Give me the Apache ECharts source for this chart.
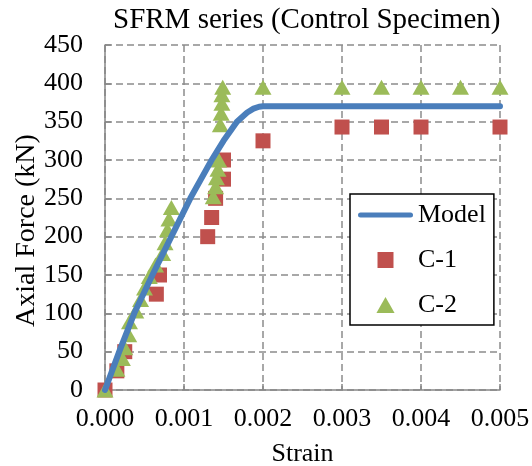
<!DOCTYPE html>
<html>
<head>
<meta charset="utf-8">
<script src="https://cdn.jsdelivr.net/npm/echarts@6/dist/echarts.min.js"></script>
<style>
html, body { margin: 0; padding: 0; background: #fff; }
#chart { width: 532px; height: 466px; }
</style>
</head>
<body>
<div id="chart"></div>
<script>
// 模型曲线
var modelStrain = [0, 0.00018, 0.00037, 0.0006, 0.00084, 0.00108, 0.00135, 0.0015, 0.00167, 0.0018, 0.00188, 0.00195, 0.002, 0.005];
var modelForce  = [0, 50, 100, 150, 200, 250, 300, 325, 350, 362, 367, 369.5, 370, 370];

// C-1 试件
var c1Strain = [0, 0.00015, 0.00025, 0.00065, 0.00069, 0.0013, 0.00135, 0.0014, 0.0015, 0.0015, 0.002, 0.003, 0.0035, 0.004, 0.005];
var c1Force  = [0, 25, 50, 125, 150, 200, 225, 250, 275, 300, 325, 343, 343, 343, 343];

// C-2 试件
var c2Strain = [0, 0.00015, 0.00022, 0.00025, 0.0003, 0.00031, 0.00039, 0.00045, 0.0005, 0.00056, 0.00064, 0.00073, 0.00076, 0.00079, 0.00081, 0.00084,
    0.00137, 0.0014, 0.00141, 0.00143, 0.00144, 0.00146, 0.00147, 0.00148, 0.00148, 0.00149,
    0.002, 0.003, 0.0035, 0.004, 0.0045, 0.005];
var c2Force  = [0, 27, 41, 55, 72, 89, 103, 118, 133, 148, 163, 178, 192, 209, 223, 238,
    252, 265, 277, 288, 300, 346, 361, 374, 385, 395,
    395, 395, 395, 395, 395, 395];

function pairs(xs, ys) {
    var out = [];
    for (var i = 0; i < xs.length; i++) {
        out.push([xs[i], ys[i]]);
    }
    return out;
}

var font = 'Liberation Serif';
var axisGray = '#868686';
var gridLine = { lineStyle: { color: '#8c8c8c', width: 1.5, type: [7, 4] } };

var myChart = echarts.init(document.getElementById('chart'));

var option = {
    backgroundColor: '#fff',
    animation: false,
    textStyle: { fontFamily: font, color: '#000' },
    grid: {
        left: 105,
        right: 32,
        top: 45,
        bottom: 76,
        outerBoundsMode: 'none'
    },
    title: {
        text: 'SFRM series (Control Specimen)',
        left: 113,
        top: 6,
        padding: 0,
        textStyle: { fontFamily: font, fontSize: 29, fontWeight: 'normal', color: '#000' }
    },
    legend: {
        orient: 'vertical',
        left: 350,
        top: 194,
        padding: [8, 8, 7, 8],
        itemGap: 19,
        itemWidth: 55,
        itemHeight: 16,
        symbolKeepAspect: true,
        borderColor: '#000',
        borderWidth: 1.5,
        backgroundColor: '#fff',
        textStyle: { fontFamily: font, fontSize: 26, color: '#000' },
        data: [
            { name: 'Model', icon: 'path://M2.5,0L52.5,0A2.5,2.5,0,0,1,52.5,5L2.5,5A2.5,2.5,0,0,1,2.5,0Z' },
            { name: 'C-1', icon: 'path://M0,0L1,0L1,1L0,1Z' },
            { name: 'C-2', icon: 'path://M0.5,0L1,0.88L0,0.88Z' }
        ]
    },
    xAxis: {
        type: 'value',
        min: 0,
        max: 0.005,
        interval: 0.001,
        name: 'Strain',
        nameLocation: 'middle',
        nameGap: 51,
        nameMoveOverlap: false,
        nameTextStyle: { fontFamily: font, fontSize: 26, color: '#000' },
        axisLine: { lineStyle: { color: axisGray, width: 1.5 } },
        axisTick: { inside: true, length: 6, lineStyle: { color: axisGray, width: 1.5 } },
        axisLabel: {
            fontFamily: font, fontSize: 26, color: '#000', margin: 16,
            formatter: function (v) { return v.toFixed(3); }
        },
        splitLine: gridLine
    },
    yAxis: {
        type: 'value',
        min: 0,
        max: 450,
        interval: 50,
        name: 'Axial Force (kN)',
        nameLocation: 'middle',
        nameGap: 64,
        nameMoveOverlap: false,
        nameTextStyle: { fontFamily: font, fontSize: 28, color: '#000', padding: [0, 26, 0, 0] },
        axisLine: { show: true, lineStyle: { color: axisGray, width: 1.5 } },
        axisTick: { show: true, inside: true, length: 6, lineStyle: { color: axisGray, width: 1.5 } },
        axisLabel: { fontFamily: font, fontSize: 26, color: '#000', margin: 22 },
        splitLine: gridLine
    },
    series: [{
        name: 'Model',
        type: 'line',
        data: pairs(modelStrain, modelForce),
        symbol: 'none',
        clip: false,
        lineStyle: { color: '#4a7ebb', width: 6, cap: 'round', join: 'round' },
        itemStyle: { color: '#4a7ebb' }
    }, {
        name: 'C-1',
        type: 'scatter',
        data: pairs(c1Strain, c1Force),
        symbol: 'rect',
        symbolSize: 15,
        clip: false,
        itemStyle: { color: '#c0504d', opacity: 1 }
    }, {
        name: 'C-2',
        type: 'scatter',
        data: pairs(c2Strain, c2Force),
        symbol: 'triangle',
        symbolSize: [17, 15],
        clip: false,
        itemStyle: { color: '#9bbb59', opacity: 1 }
    }]
};
myChart.setOption(option);
</script>
</body>
</html>
